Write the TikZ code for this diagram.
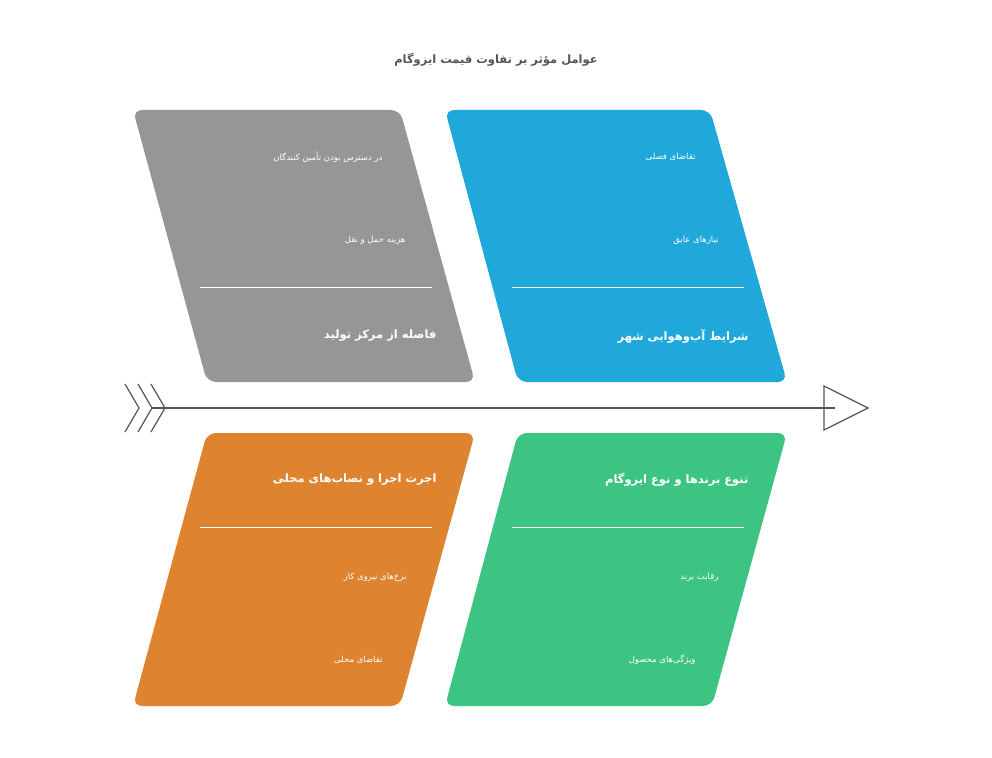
\documentclass[tikz,border=0pt]{standalone}
\usepackage{fontspec}
\TeXXeTstate=1
\newfontfamily\arabicfont[Script=Arabic]{DejaVu Sans}
\colorlet{cgray}{black!41}
\definecolor{cblue}{HTML}{1FA8D9}
\definecolor{corange}{HTML}{DE8330}
\definecolor{cgreen}{HTML}{3DC482}
\definecolor{cdark}{HTML}{555555}
\newcommand{\fa}[1]{\arabicfont\beginR #1\endR}
\begin{document}
\begin{tikzpicture}[x=1pt,y=-1pt,
  panel/.style={rounded corners=9pt},
  item/.style={anchor=east,text=white,font=\fontsize{8.5}{10}\selectfont},
  head/.style={anchor=east,text=white,font=\fontsize{11.5}{13}\selectfont\bfseries},
  sep/.style={draw=white,line width=1pt},
  spine/.style={draw=cdark,line width=1.2pt}]
\useasboundingbox (0,0) rectangle (992,757);
\node[text=cdark,font=\fontsize{11.5}{13}\selectfont\bfseries] (title) at (496,60) {\fa{عوامل مؤثر بر تفاوت قیمت ایزوگام}};
% panels
\fill[cgray,panel] (133,110) -- (400,110) -- (475,382) -- (207,382) -- cycle;
\fill[cblue,panel] (445,110) -- (710,110) -- (787,382) -- (518,382) -- cycle;
\fill[corange,panel] (207,433) -- (475,433) -- (400,706) -- (133,706) -- cycle;
\fill[cgreen,panel] (518,433) -- (787,433) -- (712,706) -- (445,706) -- cycle;
\draw[sep] (200,287) -- (432,287);
\draw[sep] (512,287) -- (744,287);
\draw[sep] (200,527) -- (432,527);
\draw[sep] (512,527) -- (744,527);
% texts
\node[item] (g1) at (386,157) {\fa{در دسترس بودن تأمین کنندگان}};
\node[item] (g2) at (409,240) {\fa{هزینه حمل و نقل}};
\node[head] (gh) at (440,336) {\fa{فاصله از مرکز تولید}};
\node[item] (b1) at (699,157) {\fa{تقاضای فصلی}};
\node[item] (b2) at (722,240) {\fa{نیازهای عایق}};
\node[head] (bh) at (752,336) {\fa{شرایط آب^^^^200cوهوایی شهر}};
\node[head] (oh) at (440,480) {\fa{اجرت اجرا و نصاب^^^^200cهای محلی}};
\node[item] (o1) at (410,577) {\fa{نرخ^^^^200cهای نیروی کار}};
\node[item] (o2) at (386,660) {\fa{تقاضای محلی}};
\node[head] (nh) at (752,480) {\fa{تنوع برندها و نوع ایزوگام}};
\node[item] (n1) at (722,577) {\fa{رقابت برند}};
\node[item] (n2) at (699,660) {\fa{ویژگی^^^^200cهای محصول}};
% spine
\coordinate (tail) at (151,408);
\coordinate (head) at (835,408);
\draw[spine] (tail) -- (head);
\draw[spine,line join=miter] (824,386) -- (868,408) -- (824,430) -- cycle;
\foreach \x in {125,138,151}{\draw[spine] (\x,384) -- (\x+14,408) -- (\x,432);}
\end{tikzpicture}
\end{document}
